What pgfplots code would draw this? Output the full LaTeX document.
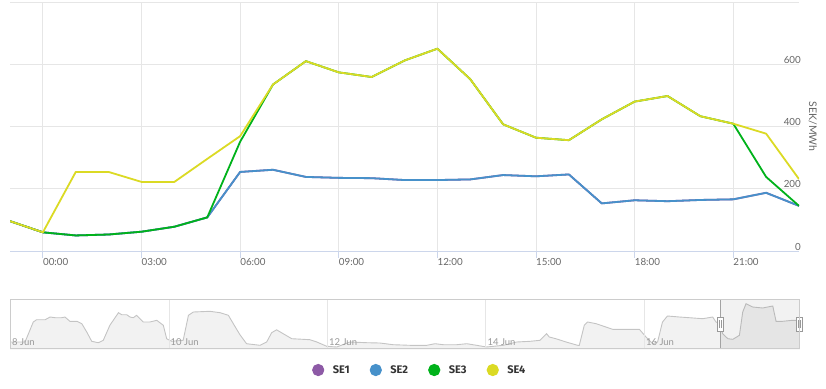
\documentclass[border=0pt]{standalone}
\usepackage{pgfplots}
\usepackage{pgfplotstable}
\pgfplotsset{compat=1.18}
\usepackage{fontspec}
\setmainfont{Lato}
\newfontfamily\legfont{Fira Sans}
\definecolor{gridcol}{HTML}{E6E6E6}
\definecolor{axiscol}{HTML}{CCD6EB}
\definecolor{ticktext}{HTML}{666666}
\definecolor{navtext}{HTML}{999999}
\definecolor{navfill}{HTML}{F2F2F2}
\definecolor{navline}{HTML}{C4C4C4}
\definecolor{navborder}{HTML}{CCCCCC}
\definecolor{legtext}{HTML}{333333}
\definecolor{se1}{HTML}{8D5AA6}
\definecolor{se2}{HTML}{4791CA}
\definecolor{se3}{HTML}{00B21B}
\definecolor{se4}{HTML}{DBDA24}

\pgfplotstableread{
hour SE1 SE2 SE3 SE4
-1 96 96 96 96
0 60 60 60 60
1 50 50 50 254
2 53 53 53 254
3 62 62 62 222
4 78 78 78 222
5 108 108 108 296
6 254 254 351 369
7 261 261 535 535
8 238 238 610 610
9 235 235 574 574
10 234 234 559 559
11 228 228 612 612
12 228 228 650 650
13 230 230 552 552
14 244 244 407 407
15 240 240 364 364
16 246 246 356 356
17 153 153 423 423
18 163 163 480 480
19 160 160 498 498
20 164 164 433 433
21 166 166 409 409
22 187 187 238 377
23 145 145 145 231
}\prices

\pgfplotstableread{
h v
0 6.7
1.4 6.7
4.4 6.7
6.9 26.7
7.9 29
10.5 29
12.0 31.7
13.5 31
15.5 31
16.5 31.7
18.0 27.4
20.1 27.4
21.6 25
23.1 16.7
24.6 7.4
26.6 6
28.1 8.4
30.1 23.4
32.7 36
33.7 34
35.2 34
36.2 31.7
37.2 31
38.2 33.4
39.2 30
40.2 26.7
42.2 26.7
44.3 28.4
46.3 23.4
47.3 10
48.8 7.4
52.3 8.4
53.9 33.4
55.4 36.7
60.4 37.4
63.5 36
66.0 33.4
67.5 25
69.5 14
71.5 5
75.6 3.4
77.6 6.7
79.1 16
80.6 18.9
82.6 15
85.2 10
90.7 9
92.8 6.7
95.8 2.4
98.8 1.7
102.8 6.7
107.9 6
111.9 5.7
115.9 4
121.0 3.4
126.1 3.4
128.6 5
131.1 4
135.2 4
138.2 5
141.2 3.4
144.2 1.7
149.3 3.4
153.3 6.7
157.4 7.4
160.4 8.4
162.4 15
163.2 11.7
165.2 10
168.3 6.7
171.8 3.4
172.3 3.4
173.8 23.4
174.8 26.7
177.4 25
182.4 19.4
190.5 19.4
192.5 11.7
194.5 5
196.0 6.7
197.5 26.7
199.0 32.7
202.6 31.7
205.6 31
209.7 30
212.7 31.7
213.7 26.7
215.0 25
215.7 15
217.3 10
218.8 9.4
220.8 13.4
221.8 36.7
222.8 45
224.8 41.7
227.8 40.7
230.9 42.7
231.9 27.4
233.9 27.4
236.9 28.4
239 28.4
}\navdata

\begin{document}
\begin{tikzpicture}[x=1pt,y=1pt]
\useasboundingbox (0,-388) rectangle (826,0);

\begin{axis}[
  at={(10pt,-251pt)}, anchor=south west,
  scale only axis, width=789pt, height=249pt,
  xmin=-1, xmax=23, ymin=0, ymax=800,
  axis x line*=bottom, axis y line*=right,
  x axis line style={-, draw=axiscol, line width=1pt},
  y axis line style={draw=none},
  xtick={0,3,...,21},
  xticklabels={00:00,03:00,06:00,09:00,12:00,15:00,18:00,21:00},
  ytick={0,200,400,600,800},
  yticklabels={0,200,400,600,{}},
  yticklabel pos=right,
  grid=major,
  major grid style={draw=gridcol, line width=0.8pt},
  tick align=outside,
  major tick length=7pt,
  xtick style={draw=axiscol, line width=1pt},
  ytick style={draw=none},
  xticklabel style={font=\fontsize{9.8}{11}\selectfont, text=ticktext, anchor=north west, inner sep=0pt},
  yticklabel style={font=\fontsize{9.8}{11}\selectfont, text=ticktext, anchor=south east, inner sep=0pt, xshift=-5pt, yshift=0.5pt},
  every axis y label/.style={at={(rel axis cs:1,0.5)}, xshift=13.7pt, rotate=-90, anchor=center},
  ylabel={SEK/MWh},
  ylabel style={font=\fontsize{10.5}{11}\selectfont, text=ticktext},
  legend columns=4,
  legend style={at={(rel axis cs:0.3829,-0.478)}, anchor=west, draw=none, fill=none,
    inner sep=0pt, outer sep=0pt,
    font=\legfont\fontsize{11}{12}\selectfont\bfseries, text=legtext,
    /tikz/every odd column/.append style={column sep=6.5pt},
    /tikz/every even column/.append style={column sep=18pt}},
  legend image code/.code={\fill[#1] (5.2pt,0pt) circle (5.2pt);},
  every axis plot/.append style={line width=1.8pt, line join=round},
]
\addplot[se1] table[x=hour,y=SE1] {\prices};
\addplot[se2] table[x=hour,y=SE2] {\prices};
\addplot[se3] table[x=hour,y=SE3] {\prices};
\addplot[se4] table[x=hour,y=SE4] {\prices};
\legend{SE1,SE2,SE3,SE4}
\end{axis}

\begin{axis}[
  at={(10.5pt,-348.7pt)}, anchor=south west,
  scale only axis, width=789pt, height=49.4pt,
  xmin=0, xmax=239, ymin=0, ymax=49.4,
  axis on top,
  axis line style={draw=navborder, line width=0.8pt},
  xtick={0,48,96,144,192},
  xticklabels={8 Jun,10 Jun,12 Jun,14 Jun,16 Jun},
  xmajorgrids,
  major grid style={draw=gridcol, line width=0.8pt},
  ytick=\empty,
  xtick style={draw=none},
  xticklabel style={font=\fontsize{9.5}{11}\selectfont, text=navtext, anchor=base west, inner sep=0pt, xshift=1.5pt, yshift=3.5pt},
  clip=false,
]
\addplot[fill=navfill, draw=navline, line width=0.9pt] table[x=h,y=v] {\navdata} \closedcycle;
\fill[black, opacity=0.05] (axis cs:215,0) rectangle (axis cs:239,49.4);
\draw[navborder!80!black, line width=0.8pt] (axis cs:215,0) rectangle (axis cs:239,49.4);
\draw[fill=white, draw=gray!80, line width=0.7pt] ([xshift=-3.3pt,yshift=-7pt]axis cs:215,24.7) rectangle ([xshift=3.3pt,yshift=7pt]axis cs:215,24.7);
\draw[gray!80, line width=0.6pt] ([xshift=-1pt,yshift=-4pt]axis cs:215,24.7) -- ([xshift=-1pt,yshift=4pt]axis cs:215,24.7);
\draw[gray!80, line width=0.6pt] ([xshift=1pt,yshift=-4pt]axis cs:215,24.7) -- ([xshift=1pt,yshift=4pt]axis cs:215,24.7);
\draw[fill=white, draw=gray!80, line width=0.7pt] ([xshift=-3.3pt,yshift=-7pt]axis cs:239,24.7) rectangle ([xshift=3.3pt,yshift=7pt]axis cs:239,24.7);
\draw[gray!80, line width=0.6pt] ([xshift=-1pt,yshift=-4pt]axis cs:239,24.7) -- ([xshift=-1pt,yshift=4pt]axis cs:239,24.7);
\draw[gray!80, line width=0.6pt] ([xshift=1pt,yshift=-4pt]axis cs:239,24.7) -- ([xshift=1pt,yshift=4pt]axis cs:239,24.7);
\end{axis}
\end{tikzpicture}
\end{document}
